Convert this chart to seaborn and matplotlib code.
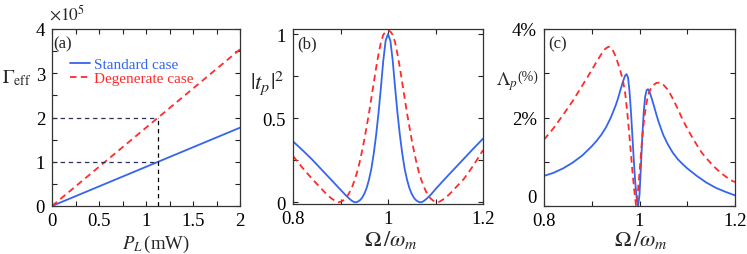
import matplotlib
matplotlib.use("Agg")
import matplotlib.pyplot as plt
import numpy as np
import pandas as pd
import seaborn as sns
from matplotlib.ticker import FixedLocator, FixedFormatter, MultipleLocator

# ---------------- data ----------------
# panel (a): effective coupling vs pump power (x 1e5)
power_mw = [0.0, 2.0]
gamma_standard = [0.0, 1.77]
gamma_degenerate = [0.0, 3.54]
guide_power = 1.13
guide_levels = [1.0, 2.0]

# panel (b): transmission |t_p|^2
omega_b_std = [0.800, 0.820, 0.840, 0.860, 0.880, 0.890, 0.900, 0.910, 0.920, 0.925,
               0.930, 0.935, 0.940, 0.945, 0.950, 0.955, 0.960, 0.965, 0.970, 0.975,
               0.980, 0.985, 0.990, 0.995, 1.000, 1.005, 1.010, 1.015, 1.020, 1.025,
               1.030, 1.035, 1.040, 1.045, 1.050, 1.055, 1.060, 1.065, 1.070, 1.075,
               1.080, 1.090, 1.100, 1.120, 1.140, 1.160, 1.180, 1.200]
trans_std = [0.362, 0.310, 0.255, 0.195, 0.135, 0.105, 0.075, 0.045, 0.018, 0.007,
             0.000, 0.002, 0.010, 0.025, 0.050, 0.085, 0.135, 0.200, 0.290, 0.400,
             0.530, 0.680, 0.840, 0.960, 1.000, 0.960, 0.840, 0.680, 0.530, 0.400,
             0.290, 0.200, 0.135, 0.085, 0.050, 0.025, 0.010, 0.002, 0.000, 0.007,
             0.018, 0.045, 0.078, 0.140, 0.200, 0.260, 0.320, 0.378]

omega_b_deg = [0.800, 0.820, 0.840, 0.860, 0.870, 0.880, 0.890, 0.895, 0.900, 0.905,
               0.910, 0.915, 0.920, 0.925, 0.930, 0.935, 0.940, 0.945, 0.950, 0.955,
               0.960, 0.965, 0.970, 0.975, 0.980, 0.985, 0.990, 0.995, 1.000, 1.005,
               1.010, 1.015, 1.020, 1.025, 1.030, 1.035, 1.040, 1.045, 1.050, 1.055,
               1.060, 1.065, 1.070, 1.075, 1.080, 1.085, 1.090, 1.095, 1.100, 1.105,
               1.110, 1.120, 1.130, 1.140, 1.160, 1.180, 1.200]
trans_deg = [0.275, 0.205, 0.140, 0.080, 0.050, 0.025, 0.006, 0.000, 0.003, 0.010,
             0.022, 0.040, 0.065, 0.095, 0.135, 0.180, 0.235, 0.300, 0.370, 0.450,
             0.530, 0.620, 0.710, 0.800, 0.880, 0.950, 0.995, 1.015, 1.020, 1.015,
             0.995, 0.950, 0.880, 0.800, 0.710, 0.620, 0.530, 0.450, 0.370, 0.300,
             0.235, 0.180, 0.135, 0.095, 0.065, 0.040, 0.022, 0.010, 0.003, 0.000,
             0.006, 0.025, 0.050, 0.080, 0.140, 0.220, 0.310]

# panel (c): Lambda_p (%)
omega_c_std = [0.800, 0.820, 0.840, 0.860, 0.880, 0.900, 0.910, 0.920, 0.930, 0.940,
               0.950, 0.955, 0.960, 0.965, 0.970, 0.973, 0.976, 0.979, 0.982, 0.985,
               0.988, 0.991, 0.994, 0.997, 1.000, 1.003, 1.006, 1.009, 1.012, 1.015,
               1.018, 1.021, 1.025, 1.030, 1.035, 1.040, 1.050, 1.060, 1.070, 1.080,
               1.090, 1.100, 1.120, 1.140, 1.160, 1.180, 1.200]
lambda_std = [0.68, 0.75, 0.85, 0.98, 1.14, 1.35, 1.47, 1.61, 1.78, 2.00,
              2.27, 2.43, 2.62, 2.80, 2.95, 2.98, 2.90, 2.60, 2.15, 1.60,
              1.05, 0.55, 0.18, 0.00, 0.25, 0.90, 1.60, 2.15, 2.48, 2.62,
              2.64, 2.58, 2.45, 2.27, 2.08, 1.90, 1.60, 1.38, 1.20, 1.06,
              0.95, 0.85, 0.68, 0.53, 0.41, 0.32, 0.24]

omega_c_deg = [0.800, 0.820, 0.840, 0.860, 0.880, 0.900, 0.910, 0.920, 0.928, 0.935,
               0.940, 0.945, 0.950, 0.955, 0.960, 0.965, 0.970, 0.975, 0.980, 0.985,
               0.990, 0.993, 0.996, 1.000, 1.005, 1.010, 1.015, 1.020, 1.025, 1.030,
               1.035, 1.042, 1.050, 1.060, 1.070, 1.080, 1.090, 1.100, 1.110, 1.120,
               1.130, 1.140, 1.150, 1.160, 1.170, 1.180, 1.190, 1.200]
lambda_deg = [1.50, 1.76, 2.06, 2.37, 2.72, 3.07, 3.26, 3.43, 3.55, 3.60,
              3.58, 3.50, 3.38, 3.22, 3.05, 2.85, 2.55, 2.05, 1.45, 0.80,
              0.25, 0.00, 0.25, 0.75, 1.45, 2.00, 2.35, 2.57, 2.68, 2.74,
              2.78, 2.79, 2.74, 2.62, 2.42, 2.20, 1.96, 1.75, 1.56, 1.38,
              1.21, 1.08, 0.96, 0.85, 0.75, 0.67, 0.59, 0.54]

# ticks
a_xticks = [0, 0.5, 1, 1.5, 2]
a_xticklabels = ["0", "0.5", "1", "1.5", "2"]
a_yticks = [0, 1, 2, 3, 4]
a_yticklabels = ["0", "1", "2", "3", "4"]
bc_xticks = [0.8, 1.0, 1.2]
bc_xticklabels = ["0.8", "1", "1.2"]
b_yticks = [0, 0.5, 1]
b_yticklabels = ["0", "0.5", "1"]
c_yticks = [0, 2, 4]
c_yticklabels = ["0", "2%", "4%"]

# ---------------- style ----------------
BLUE = "#3565ee"
RED = "#ff2b2b"
sns.set_style("ticks")
plt.rcParams.update({
    "font.family": "serif",
    "font.serif": ["Liberation Serif", "DejaVu Serif"],
    "mathtext.fontset": "stix",
    "font.size": 13.5,
    "xtick.direction": "in",
    "ytick.direction": "in",
    "xtick.top": True,
    "ytick.right": True,
    "xtick.major.size": 3.5,
    "ytick.major.size": 3.5,
    "xtick.minor.size": 3.5,
    "ytick.minor.size": 3.5,
    "xtick.major.width": 0.8,
    "ytick.major.width": 0.8,
    "xtick.minor.width": 0.8,
    "ytick.minor.width": 0.8,
    "xtick.color": "#222222",
    "ytick.color": "#222222",
    "xtick.labelcolor": "black",
    "ytick.labelcolor": "black",
    "xtick.major.pad": 4.0,
    "ytick.major.pad": 5.0,
    "axes.edgecolor": "#333333",
    "axes.linewidth": 0.9,
})

W, H = 747, 255
fig = plt.figure(figsize=(W / 100, H / 100), dpi=100)


def add_ax(l, r, t, b):
    return fig.add_axes([l / W, 1 - b / H, (r - l) / W, (b - t) / H])


def ftext(x, y, s, **kw):
    kw.setdefault("va", "baseline")
    fig.text(x / W, 1 - y / H, s, **kw)


axA = add_ax(52, 240, 30, 207)
axB = add_ax(293, 483, 30, 205)
axC = add_ax(544, 735, 30, 207)

dash = (0, (3.6, 2.4))
lw = 1.3

# ---- (a)
sns.lineplot(x=power_mw, y=gamma_standard, ax=axA, color=BLUE, lw=lw, label="Standard case")
sns.lineplot(x=power_mw, y=gamma_degenerate, ax=axA, color=RED, lw=lw, linestyle=dash,
             label="Degenerate case")
axA.hlines(guide_levels, 0, guide_power, colors="#2e2e5e", linestyles=(0, (3.5, 3)), lw=0.9)
axA.vlines(guide_power, 0, max(guide_levels), colors="black", linestyles=(0, (3.5, 3)), lw=0.9)
axA.set_xlim(0, 2)
axA.set_ylim(0, 4)
axA.xaxis.set_major_locator(FixedLocator(a_xticks))
axA.xaxis.set_major_formatter(FixedFormatter(a_xticklabels))
axA.yaxis.set_major_locator(FixedLocator(a_yticks))
axA.yaxis.set_major_formatter(FixedFormatter(a_yticklabels))
axA.xaxis.set_minor_locator(MultipleLocator(0.25))
axA.yaxis.set_minor_locator(MultipleLocator(0.5))
leg = axA.legend(loc="upper left", bbox_to_anchor=(0.097, 0.84), frameon=False,
                 labelcolor="linecolor", fontsize=11, handlelength=1.3,
                 handletextpad=0.25, borderpad=0, borderaxespad=0, labelspacing=0.02)

# ---- (b)
sns.lineplot(x=omega_b_std, y=trans_std, ax=axB, color=BLUE, lw=lw)
sns.lineplot(x=omega_b_deg, y=trans_deg, ax=axB, color=RED, lw=lw, linestyle=dash)
axB.set_xlim(0.8, 1.2)
axB.set_ylim(-0.01, 1.03)
axB.xaxis.set_major_locator(FixedLocator(bc_xticks))
axB.xaxis.set_major_formatter(FixedFormatter(bc_xticklabels))
axB.yaxis.set_major_locator(FixedLocator(b_yticks))
axB.yaxis.set_major_formatter(FixedFormatter(b_yticklabels))
axB.xaxis.set_minor_locator(MultipleLocator(0.1))
axB.yaxis.set_minor_locator(MultipleLocator(0.25))

# ---- (c)
sns.lineplot(x=omega_c_std, y=lambda_std, ax=axC, color=BLUE, lw=lw)
sns.lineplot(x=omega_c_deg, y=lambda_deg, ax=axC, color=RED, lw=lw, linestyle=dash)
axC.set_xlim(0.8, 1.2)
axC.set_ylim(0, 4)
axC.xaxis.set_major_locator(FixedLocator(bc_xticks))
axC.xaxis.set_major_formatter(FixedFormatter(bc_xticklabels))
axC.yaxis.set_major_locator(FixedLocator(c_yticks))
axC.yaxis.set_major_formatter(FixedFormatter(c_yticklabels))
axC.xaxis.set_minor_locator(MultipleLocator(0.1))
axC.yaxis.set_minor_locator(MultipleLocator(1))

for ax in (axA, axB, axC):
    ax.set_xlabel("")
    ax.set_ylabel("")
    for s in ax.spines.values():
        s.set_visible(True)
    ax.tick_params(which="both", top=True, right=True)

# raise the "0" label of panel (c) like in the reference
fig.canvas.draw()
axC.yaxis.get_major_ticks()[0].label1.set_verticalalignment("bottom")
axB.yaxis.get_major_ticks()[0].label1.set_verticalalignment("center_baseline")

# ---- text labels
ftext(53, 48, "(a)", fontsize=12)
ftext(297, 48, "(b)", fontsize=12)
ftext(548, 48, "(c)", fontsize=12)

ftext(2, 83, r"$\Gamma_{\rm eff}$", fontsize=14)
ftext(49, 20, r"$\times10^5$", fontsize=12.5)
ftext(156, 249, r"$P_L\,$(mW)", fontsize=13.5, ha="center")

ftext(250, 89, r"$|t_p|^2$", fontsize=16.5)
ftext(391, 246, r"$\Omega\,/\omega_m$", fontsize=16, ha="center")

ftext(496, 85, r"$\Lambda_p$", fontsize=13.5)
ftext(517, 81, "(%)", fontsize=10)
ftext(641, 246, r"$\Omega\,/\omega_m$", fontsize=16, ha="center")

fig.savefig("out.png", dpi=100)
